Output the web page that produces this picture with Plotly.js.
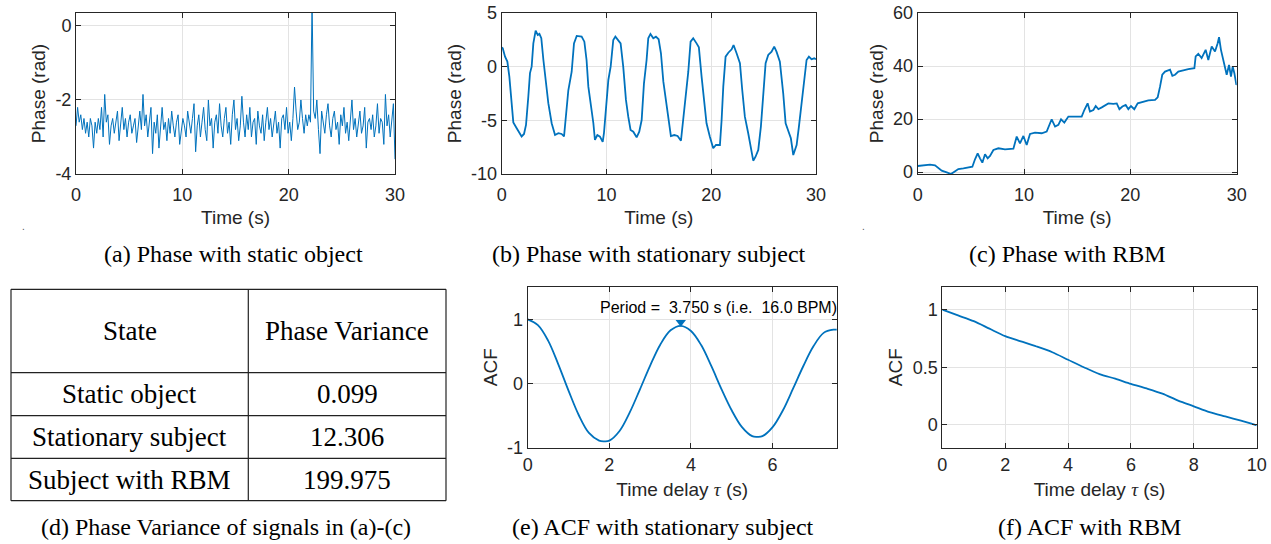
<!DOCTYPE html>
<html>
<head>
<meta charset="utf-8">
<script src="https://cdn.plot.ly/plotly-3.0.1.min.js"></script>
<style>
html,body{margin:0;padding:0;background:#fff;}
#chart{width:1271px;height:544px;}
</style>
</head>
<body>
<div id="chart"></div>
<script>
// ---------------- DATA ----------------
// (a) Phase with static object, sampled every 0.15 s from 0 to 30 s
const staticT0 = 0;
const staticDt = 0.15;
const staticPhase = [
 -2.7,-2.2,-2.6,-2.4,-2.8,-2.5,-2.9,-2.6,-3.0,-2.5,
 -2.7,-3.3,-2.6,-2.9,-2.5,-2.8,-2.2,-3.0,-1.85,-2.6,
 -2.4,-3.2,-2.7,-2.5,-2.9,-2.6,-2.3,-3.1,-2.7,-2.2,
 -2.8,-2.5,-3.0,-2.6,-2.4,-2.9,-2.7,-2.5,-3.15,-2.6,
 -2.3,-2.8,-1.85,-2.7,-2.4,-3.0,-2.5,-2.2,-3.45,-2.6,
 -2.9,-2.4,-3.3,-2.7,-2.2,-2.8,-2.6,-3.1,-2.5,-2.9,
 -2.3,-2.7,-3.0,-2.6,-2.4,-3.2,-2.8,-2.5,-2.7,-3.0,
 -2.3,-2.6,-2.9,-2.5,-2.1,-3.4,-2.7,-2.4,-3.0,-2.6,
 -2.2,-2.8,-3.1,-2.0,-2.7,-2.5,-3.3,-2.6,-2.4,-2.9,
 -2.1,-2.7,-3.0,-2.5,-2.2,-2.9,-2.6,-3.2,-2.4,-2.0,
 -2.8,-2.5,-3.1,-2.7,-1.9,-2.6,-3.0,-2.4,-2.8,-2.2,
 -3.0,-2.6,-2.5,-3.2,-2.3,-2.7,-2.9,-2.4,-3.1,-2.6,
 -2.2,-2.8,-2.5,-3.0,-2.7,-2.3,-2.9,-2.6,-3.3,-2.5,
 -2.4,-2.8,-2.2,-2.9,-2.6,-3.1,-2.5,-1.65,-2.3,-2.8,
 -2.6,-2.0,-2.5,-2.9,-2.4,-2.7,-2.4,-2.6,0.6,-2.3,
 -2.5,-2.0,-2.8,-3.45,-2.3,-2.6,-2.9,-2.4,-2.1,-2.7,
 -3.0,-2.5,-2.3,-2.8,-2.6,-3.2,-2.4,-2.7,-2.2,-2.9,
 -2.6,-3.1,-2.4,-2.0,-2.8,-2.5,-3.0,-2.6,-2.3,-2.9,
 -2.7,-2.2,-3.3,-2.6,-2.5,-2.8,-2.4,-3.0,-2.7,-2.1,
 -2.9,-2.5,-2.6,-3.2,-1.85,-2.7,-2.4,-3.0,-2.5,-2.1,
 -3.6
];

// (b) Phase with stationary subject
const stationaryT = [0,0.1,0.32,0.54,0.73,0.89,1.11,1.43,1.68,1.9,2.13,2.32,2.54,2.7,2.86,3.02,3.24,3.44,3.6,3.78,3.98,4.2,4.45,4.77,5.09,5.41,5.72,5.95,6.36,6.68,6.9,7.16,7.63,7.89,8.1,8.27,8.49,8.75,8.9,9.13,9.38,9.64,9.76,9.96,10.18,10.4,10.65,10.85,11.1,11.35,11.6,11.86,12.08,12.3,12.56,12.88,13.13,13.36,13.58,13.83,13.99,14.2,14.47,14.72,14.98,15.2,15.43,15.65,15.9,16.15,16.47,16.79,17.11,17.33,17.55,17.81,18.03,18.28,18.6,18.82,19.08,19.33,19.55,19.87,20.19,20.45,20.83,20.99,21.15,21.37,21.63,21.95,22.13,22.42,22.74,22.96,23.21,23.53,23.79,24.01,24.23,24.49,24.74,24.96,25.19,25.44,25.76,26.01,26.23,26.55,26.87,27.1,27.35,27.6,27.83,28.15,28.37,28.62,28.88,29.1,29.32,29.57,29.83,30];
const stationaryPhase = [1.8,1.71,0.93,0.47,-0.93,-3.1,-5.2,-5.74,-6.2,-6.5,-6.27,-5.43,-2.8,-0.6,0,2.17,3.35,2.95,3.05,2.65,0.62,-1.24,-3.4,-5.27,-6.37,-6.2,-6.27,-6.5,-2.2,-0.47,2.17,2.86,2.8,2.33,0.62,-1.86,-3.4,-5.27,-6.83,-6.37,-6.52,-7.0,-6.2,-3.4,-1.24,0,2.49,2.8,2.49,2.17,0,-3.1,-4.66,-5.9,-6.06,-6.58,-6.06,-4.97,-1.55,0.62,2.65,3.05,2.65,2.8,2.55,1.25,-1.4,-3.1,-4.97,-6.46,-6.37,-6.46,-6.9,-4.97,-2.48,-0.47,2.33,2.65,2.17,1.8,-0.93,-3.1,-5.27,-6.52,-7.6,-7.3,-7.3,-4.97,-1.86,0.93,1.3,1.62,2.02,1.25,0.32,-2.17,-4.66,-6.2,-7.45,-8.76,-8.39,-7.76,-5.59,-2.8,0.32,1.09,1.4,1.86,1.4,0.47,-2.48,-5.27,-5.9,-6.67,-8.23,-7.3,-5.59,-3.4,-0.93,0.62,0.93,0.69,0.78,0.69];

// (c) Phase with RBM
const rbmT = [0,0.69,1.16,1.63,1.88,2.26,2.73,3.13,3.45,3.82,4.3,4.76,5.14,5.39,5.64,5.86,6.08,6.33,6.58,6.8,7.12,7.59,8.21,9.0,9.31,9.62,9.94,10.25,10.56,11.03,11.66,12.13,12.6,12.92,13.23,13.48,13.79,14.17,14.73,15.42,15.67,15.98,16.2,16.52,16.74,16.99,17.31,17.62,17.93,18.4,18.72,18.97,19.25,19.56,19.81,20.06,20.37,20.69,21.22,21.69,22.32,22.57,22.79,23.0,23.26,23.73,23.95,24.2,24.51,24.83,25.45,26.02,26.14,26.39,26.7,27.08,27.33,27.65,27.96,28.21,28.34,28.52,28.68,28.9,29.06,29.28,29.46,29.62,29.78,29.97,30];
const rbmPhase = [2.27,2.52,2.77,2.52,1.76,0.5,-0.13,-0.76,0.13,1.13,1.39,1.64,2.0,4.8,7.06,5.17,3.53,6.68,5.17,6.05,8.32,8.95,8.57,8.82,13.36,10.84,13.6,10.2,14.37,14.87,14.62,15.25,19.9,17.14,17.77,19.9,18.65,20.9,20.9,20.9,23.4,25.9,22.8,23.4,24.9,23.7,24.4,25.3,25.9,25.7,25.9,23.7,24.7,25.3,23.7,24.9,23.7,25.9,26.6,27.0,27.2,28.2,32.2,36.7,37.9,38.6,36.3,36.7,37.9,38.3,38.8,39.2,43.6,44.6,43.0,46.1,42.3,47.4,45.5,48.6,50.9,46.1,43.6,39.2,36.7,40.4,36.0,39.8,37.3,32.9,33.2];

// (e) ACF with stationary subject
const acfStatTau = [0,0.25,0.5,0.75,1.0,1.25,1.5,1.75,1.875,2.0,2.25,2.5,2.75,3.0,3.25,3.5,3.75,4.0,4.25,4.5,4.75,5.0,5.25,5.5,5.625,5.75,6.0,6.25,6.5,6.75,7.0,7.25,7.5,7.6];
const acfStat = [1.00,0.91,0.67,0.30,-0.11,-0.49,-0.77,-0.89,-0.90,-0.89,-0.74,-0.45,-0.09,0.28,0.61,0.83,0.90,0.82,0.60,0.27,-0.09,-0.42,-0.68,-0.82,-0.83,-0.82,-0.68,-0.42,-0.08,0.27,0.58,0.79,0.84,0.84];
const periodTau = 3.75;
const periodMarkerACF = 0.955;
const periodLabel = "Period =\u00a0 3.750 s (i.e.\u00a0 16.0 BPM)";

// (f) ACF with RBM
const acfRbmTau = [0,0.5,1,1.5,2,2.5,3,3.5,4,4.5,5,5.5,6,6.5,7,7.5,8,8.5,9,9.5,10];
const acfRbm = [1.0,0.95,0.90,0.835,0.77,0.725,0.68,0.63,0.565,0.50,0.44,0.40,0.355,0.315,0.27,0.21,0.16,0.11,0.072,0.035,-0.005];

// (d) table
const tableHeader = ["State","Phase Variance"];
const tableStates = ["Static object","Stationary subject","Subject with RBM"];
const tableVariance = ["0.099","12.306","199.975"];

// captions
const captions = [
 "(a) Phase with static object",
 "(b) Phase with stationary subject",
 "(c) Phase with RBM",
 "(d) Phase Variance of signals in (a)-(c)",
 "(e) ACF with stationary subject",
 "(f) ACF with RBM"
];

// tick labels
const ticksA = {x:[0,10,20,30], xt:["0","10","20","30"], y:[-4,-2,0], yt:["-4","-2","0"]};
const ticksB = {x:[0,10,20,30], xt:["0","10","20","30"], y:[-10,-5,0,5], yt:["-10","-5","0","5"]};
const ticksC = {x:[0,10,20,30], xt:["0","10","20","30"], y:[0,20,40,60], yt:["0","20","40","60"]};
const ticksE = {x:[0,2,4,6], xt:["0","2","4","6"], y:[-1,0,1], yt:["-1","0","1"]};
const ticksF = {x:[0,2,4,6,8,10], xt:["0","2","4","6","8","10"], y:[0,0.5,1], yt:["0","0.5","1"]};

// ---------------- LAYOUT ----------------
const W = 1271, H = 544;
const px = v => v / W;
const py = v => 1 - v / H;
const BLUE = '#0072BD';
const AXC = '#262626';
const SANS = 'Liberation Sans, Arial, sans-serif';
const SERIF = 'Liberation Serif, Times New Roman, serif';
const TICKSIZE = 18;
const TITLESIZE = 19;

function axis(domain, range, vals, texts, title, anchor, standoff, lblOff) {
  return {
    domain: domain, range: range, anchor: anchor,
    tickmode: 'array', tickvals: vals, ticktext: texts,
    showgrid: true, gridcolor: '#e3e3e3', gridwidth: 1,
    zeroline: false, showline: true, linecolor: AXC, linewidth: 1,
    mirror: 'ticks', ticks: 'inside', ticklen: 5, tickcolor: AXC, tickwidth: 1,
    ticklabelstandoff: lblOff || 0,
    tickfont: {family: SANS, size: TICKSIZE, color: AXC},
    title: {text: title, font: {family: SANS, size: TITLESIZE, color: AXC}, standoff: standoff},
    fixedrange: true
  };
}

const topY = [py(174), py(13)];
const botY = [py(447.7), py(286.7)];
const TAU = 'Time delay <span style="font-family:Liberation Serif"><i>\u03c4</i></span> (s)';

const layout = {
  width: W, height: H,
  margin: {l: 0, r: 0, t: 0, b: 0},
  paper_bgcolor: '#fff', plot_bgcolor: '#fff',
  showlegend: false,
  xaxis:  axis([px(76), px(395)], [0, 30], ticksA.x, ticksA.xt, 'Time (s)', 'y', 7, 4),
  yaxis:  axis(topY, [-4, 0.35], ticksA.y, ticksA.yt, 'Phase (rad)', 'x', 4),
  xaxis2: axis([px(501.7), px(816)], [0, 30], ticksB.x, ticksB.xt, 'Time (s)', 'y2', 7, 4),
  yaxis2: axis(topY, [-10, 5], ticksB.y, ticksB.yt, 'Phase (rad)', 'x2', 4),
  xaxis3: axis([px(917.7), px(1236.7)], [0, 30], ticksC.x, ticksC.xt, 'Time (s)', 'y3', 7, 4),
  yaxis3: axis(topY, [-0.75, 60], ticksC.y, ticksC.yt, 'Phase (rad)', 'x3', 4),
  xaxis4: axis([px(527.7), px(836.7)], [0, 7.57], ticksE.x, ticksE.xt, TAU, 'y4', 8, 1),
  yaxis4: axis(botY, [-1, 1.51], ticksE.y, ticksE.yt, 'ACF', 'x4', 4),
  xaxis5: axis([px(942.3), px(1256.7)], [0, 10], ticksF.x, ticksF.xt, TAU, 'y5', 8, 1),
  yaxis5: axis(botY, [-0.2, 1.2], ticksF.y, ticksF.yt, 'ACF', 'x5', 5),
  shapes: [],
  annotations: []
};

// captions
const capPos = [[233, 254], [649, 254], [1067, 254], [226, 527], [663, 527], [1089, 527]];
captions.forEach((c, i) => {
  layout.annotations.push({
    xref: 'paper', yref: 'paper', x: px(capPos[i][0]), y: py(capPos[i][1]),
    xanchor: 'center', yanchor: 'middle', showarrow: false, text: c,
    font: {family: SERIF, size: 24, color: '#000'}
  });
});

// period annotation in panel (e)
layout.annotations.push({
  xref: 'x4', yref: 'y4', x: 4.67, y: 1.19, xanchor: 'center', yanchor: 'middle',
  showarrow: false, text: periodLabel, font: {family: SANS, size: 16, color: '#000'}
});

// tiny stray dots from the original figure
[[23, 227], [863, 227]].forEach(p => layout.annotations.push({
  xref: 'paper', yref: 'paper', x: px(p[0]), y: py(p[1]), xanchor: 'center', yanchor: 'middle',
  showarrow: false, text: '.', font: {family: SANS, size: 10, color: '#555'}
}));

// table (d)
const tL = 11, tR = 446, tM = 248.3;
const rowLines = [289.3, 372.7, 415.7, 458.3, 500.7];
const lineStyle = {color: '#222', width: 1.2};
rowLines.forEach(y => layout.shapes.push({type: 'line', xref: 'paper', yref: 'paper', x0: px(tL), x1: px(tR), y0: py(y), y1: py(y), line: lineStyle}));
[tL, tM, tR].forEach(x => layout.shapes.push({type: 'line', xref: 'paper', yref: 'paper', x0: px(x), x1: px(x), y0: py(rowLines[0]), y1: py(rowLines[4]), line: lineStyle}));
const colC = [(tL + tM) / 2, (tM + tR) / 2];
function cell(text, cx, y0, y1) {
  layout.annotations.push({
    xref: 'paper', yref: 'paper', x: px(cx), y: py((y0 + y1) / 2), xanchor: 'center', yanchor: 'middle',
    showarrow: false, text: text, font: {family: SERIF, size: 27, color: '#000'}
  });
}
tableHeader.forEach((h, j) => cell(h, colC[j], rowLines[0], rowLines[1]));
tableStates.forEach((s, i) => {
  cell(s, colC[0], rowLines[i + 1], rowLines[i + 2]);
  cell(tableVariance[i], colC[1], rowLines[i + 1], rowLines[i + 2]);
});

// ---------------- TRACES ----------------
const traces = [
  {type: 'scatter', mode: 'lines', x0: staticT0, dx: staticDt, y: staticPhase, xaxis: 'x', yaxis: 'y', line: {color: BLUE, width: 1}, hoverinfo: 'skip'},
  {type: 'scatter', mode: 'lines', x: stationaryT, y: stationaryPhase, xaxis: 'x2', yaxis: 'y2', line: {color: BLUE, width: 1.8}, hoverinfo: 'skip'},
  {type: 'scatter', mode: 'lines', x: rbmT, y: rbmPhase, xaxis: 'x3', yaxis: 'y3', line: {color: BLUE, width: 1.8}, hoverinfo: 'skip'},
  {type: 'scatter', mode: 'lines', x: acfStatTau, y: acfStat, xaxis: 'x4', yaxis: 'y4', line: {color: BLUE, width: 1.8, shape: 'spline', smoothing: 1}, hoverinfo: 'skip'},
  {type: 'scatter', mode: 'markers', x: [periodTau], y: [periodMarkerACF], xaxis: 'x4', yaxis: 'y4', marker: {symbol: 'triangle-down', size: 9, color: BLUE}, hoverinfo: 'skip'},
  {type: 'scatter', mode: 'lines', x: acfRbmTau, y: acfRbm, xaxis: 'x5', yaxis: 'y5', line: {color: BLUE, width: 1.8, shape: 'spline', smoothing: 0.8}, hoverinfo: 'skip'}
];

Plotly.newPlot('chart', traces, layout, {staticPlot: true, displayModeBar: false});
</script>
</body>
</html>
